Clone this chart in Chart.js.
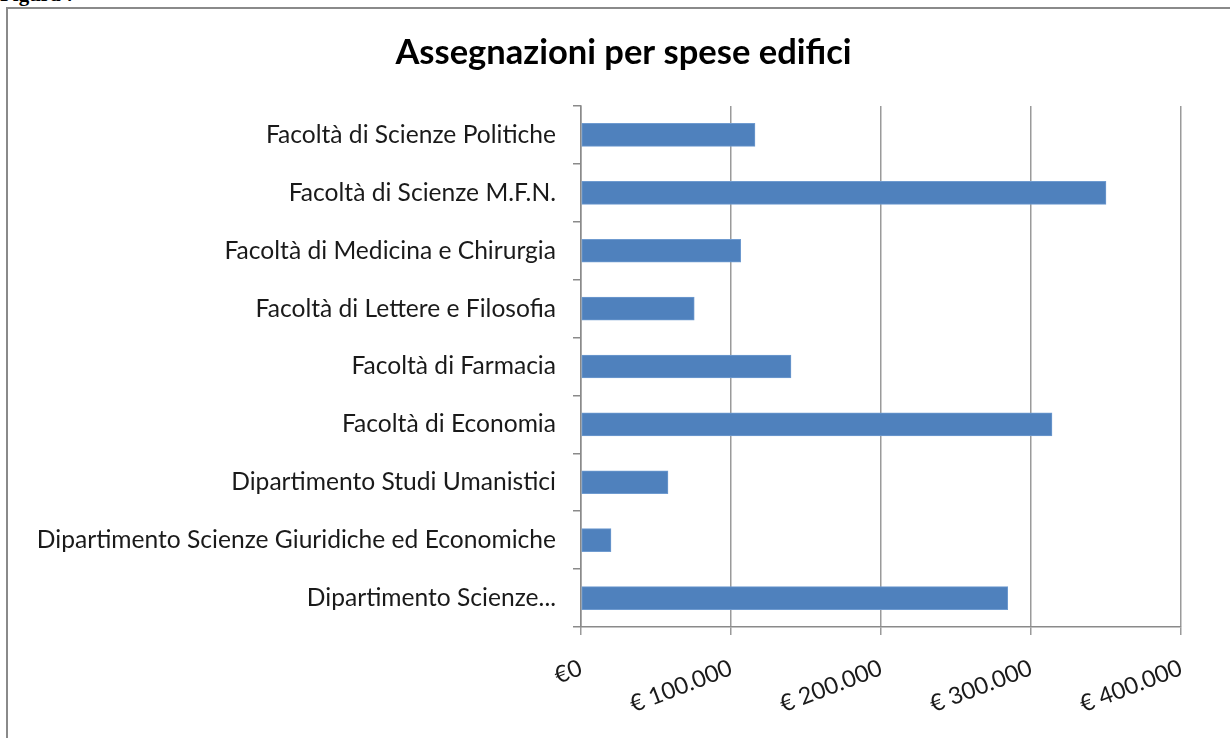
<!DOCTYPE html>
<html>
<head>
<meta charset="utf-8">
<script src="https://cdn.jsdelivr.net/npm/chart.js@4.4.1/dist/chart.umd.min.js"></script>
<style>
  html, body { margin: 0; padding: 0; background: #fff; width: 1230px; height: 738px; overflow: hidden; }
  #fig { position: absolute; left: 0; top: -18px; font: bold 21px "Liberation Serif", serif; color: #000; }
  #frame { position: absolute; left: 6px; top: 7px; width: 1240px; height: 760px; border: 2px solid #8a8a8a; box-sizing: border-box; }
  #wrap { position: absolute; left: 0; top: 0; width: 1230px; height: 738px; }
</style>
</head>
<body>
<div id="fig">Figura 7</div>
<div id="frame"></div>
<div id="wrap"><canvas id="c" width="1230" height="738"></canvas></div>
<script>
const title = "Assegnazioni per spese edifici";
const categories = [
  "Facoltà di Scienze Politiche",
  "Facoltà di Scienze M.F.N.",
  "Facoltà di Medicina e Chirurgia",
  "Facoltà di Lettere e Filosofia",
  "Facoltà di Farmacia",
  "Facoltà di Economia",
  "Dipartimento Studi Umanistici",
  "Dipartimento Scienze Giuridiche ed Economiche",
  "Dipartimento Scienze..."
];
const values = [116000, 350000, 106500, 75500, 140000, 314000, 58000, 20000, 284500];
const xTicks = [0, 100000, 200000, 300000, 400000];
const xTickLabels = ["€0", "€ 100.000", "€ 200.000", "€ 300.000", "€ 400.000"];

const FONT = "Lato, 'Open Sans', sans-serif";

const titlePlugin = {
  id: 'frameTitle',
  afterDraw(chart) {
    const ctx = chart.ctx;
    ctx.save();
    ctx.font = "bold 34.5px " + FONT;
    ctx.fillStyle = '#000';
    ctx.textAlign = 'center';
    ctx.textBaseline = 'middle';
    ctx.fillText(title, 623.5, 53);
    ctx.restore();
  }
};

new Chart(document.getElementById('c'), {
  type: 'bar',
  data: {
    labels: categories,
    datasets: [{
      data: values,
      backgroundColor: '#4F81BD',
      borderColor: '#6f9bd0',
      borderWidth: 1,
      borderSkipped: false,
      barThickness: 23
    }]
  },
  options: {
    indexAxis: 'y',
    responsive: false,
    animation: false,
    devicePixelRatio: 1,
    layout: { padding: { left: 0, right: 49, top: 106, bottom: 0 } },
    plugins: {
      legend: { display: false },
      tooltip: { enabled: false },
      title: { display: false }
    },
    scales: {
      y: {
        type: 'category',
        offset: true,
        grid: { display: true, drawOnChartArea: false, offset: true, tickLength: 8, color: '#8a8a8a', lineWidth: 1.5 },
        border: { display: true, color: '#8a8a8a', width: 1.5 },
        ticks: { color: '#1a1a1a', font: { family: FONT, size: 24.6 }, padding: 17, autoSkip: false },
        afterFit: (s) => { s.width = 581; }
      },
      x: {
        min: 0, max: 400000,
        afterBuildTicks: (s) => { s.ticks = xTicks.map(v => ({ value: v })); },
        grid: { color: '#9a9a9a', lineWidth: 1.5, tickLength: 8 },
        border: { display: true, color: '#8a8a8a', width: 1.5 },
        ticks: {
          color: '#1a1a1a',
          font: { family: FONT, size: 23.5 },
          minRotation: 21, maxRotation: 21,
          padding: 19,
          callback: (v) => xTickLabels[xTicks.indexOf(v)]
        },
        afterFit: (s) => { s.height = 111; }
      }
    }
  },
  plugins: [titlePlugin]
});
</script>
</body>
</html>
